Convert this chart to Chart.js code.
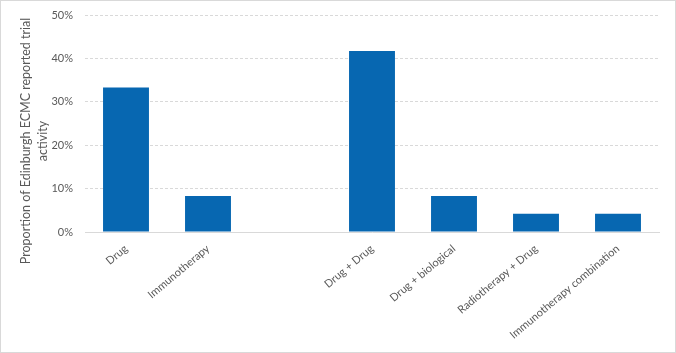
<!DOCTYPE html>
<html>
<head>
<meta charset="utf-8">
<script src="https://cdn.jsdelivr.net/npm/chart.js@4/dist/chart.umd.min.js"></script>
<style>
  html, body { margin: 0; padding: 0; background: #fff; }
  #wrap { width: 676px; height: 353px; position: relative; }
</style>
</head>
<body>
<div id="wrap"><canvas id="c" width="676" height="353"></canvas></div>
<script>
const categories = ["Drug", "Immunotherapy", "", "Drug + Drug", "Drug + biological", "Radiotherapy + Drug", "Immunotherapy combination"];
const values = [33.3, 8.3, null, 41.7, 8.3, 4.2, 4.2];
const yTicks = [0, 10, 20, 30, 40, 50];
const yTitleLines = ["Proportion of Edinburgh ECMC reported trial", "activity"];

const FONT = "Lato, 'Open Sans', sans-serif";
const TEXT = "#595959";
const GRID = "#d9d9d9";

const frame = {
  id: 'frame',
  beforeDraw(chart) {
    const ctx = chart.ctx;
    ctx.save();
    ctx.fillStyle = '#fff';
    ctx.fillRect(0, 0, chart.width, chart.height);
    ctx.strokeStyle = GRID;
    ctx.lineWidth = 1;
    ctx.strokeRect(0.5, 0.5, chart.width - 1, chart.height - 1);
    ctx.restore();
  }
};

const yTitle = {
  id: 'yTitle',
  afterDraw(chart) {
    const ctx = chart.ctx;
    ctx.save();
    ctx.translate(26, 141);
    ctx.rotate(-Math.PI / 2);
    ctx.fillStyle = TEXT;
    ctx.font = "12.5px " + FONT;
    ctx.textAlign = 'center';
    ctx.textBaseline = 'middle';
    yTitleLines.forEach((l, i) => ctx.fillText(l, 0, i * 17));
    ctx.restore();
  }
};

new Chart(document.getElementById('c'), {
  type: 'bar',
  data: {
    labels: categories,
    datasets: [{
      data: values,
      backgroundColor: '#0767b1',
      barPercentage: 0.56,
      categoryPercentage: 1.0
    }]
  },
  options: {
    responsive: false,
    animation: false,
    devicePixelRatio: 1,
    layout: { padding: { top: 15, right: 17, left: 0, bottom: 0 } },
    plugins: { legend: { display: false }, tooltip: { enabled: false } },
    scales: {
      x: {
        offset: true,
        grid: { display: false, drawTicks: false },
        border: { display: true, color: GRID, width: 1 },
        ticks: {
          color: TEXT, font: { family: FONT, size: 11 },
          minRotation: 40, maxRotation: 40, padding: 10, autoSkip: false
        },
        afterFit(scale) { scale.height = 121; }
      },
      y: {
        min: 0, max: 50,
        afterBuildTicks(scale) { scale.ticks = yTicks.map(v => ({ value: v })); },
        grid: {
          drawTicks: false,
          color: ctx => (ctx.tick && ctx.tick.value === 0) ? 'rgba(0,0,0,0)' : GRID
        },
        border: { display: false, dash: [3, 2] },
        ticks: {
          color: TEXT, font: { family: FONT, size: 11 }, padding: 12,
          callback: v => v + '%'
        },
        afterFit(scale) { scale.width = 85; scale.paddingTop = 0; scale.paddingBottom = 0; }
      }
    }
  },
  plugins: [frame, yTitle]
});
</script>
</body>
</html>
